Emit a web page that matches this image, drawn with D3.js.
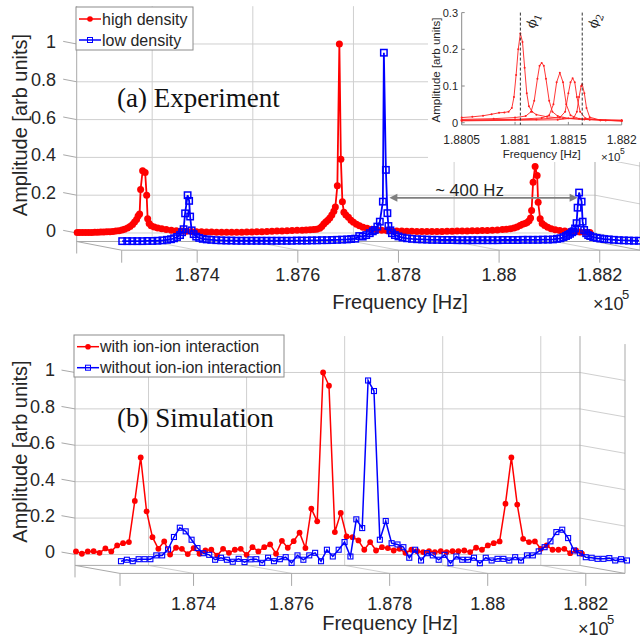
<!DOCTYPE html>
<html>
<head>
<meta charset="utf-8">
<script src="https://cdn.jsdelivr.net/npm/d3@7.9.0/dist/d3.min.js"></script>
<style>
  body { margin: 0; background: #fff; }
  svg { display: block; font-family: "Liberation Sans", Arial, sans-serif; }
</style>
</head>
<body>
<svg id="chart" width="640" height="640"></svg>
<script>
// ---- shared axis values (frequency in Hz) ----
const xMin = 187250, xMax = 188280;
const xTicks = [187400, 187600, 187800, 188000, 188200];
const xTickLabels = ["1.874", "1.876", "1.878", "1.88", "1.882"];
const zTicks = [0, 0.2, 0.4, 0.6, 0.8, 1];
const zTickLabels = ["0", "0.2", "0.4", "0.6", "0.8", "1"];

// ---- (a) experiment: [frequency Hz, amplitude] ----
const highDensity = [
  [187251,0.002],[187256,0.002],[187262,0.002],[187268,0.003],[187274,0.003],[187280,0.003],
  [187286,0.004],[187292,0.004],[187298,0.005],[187304,0.005],[187310,0.006],[187316,0.007],
  [187322,0.008],[187328,0.01],[187334,0.012],[187340,0.016],[187345,0.02],[187351,0.027],
  [187356,0.035],[187361,0.045],[187365,0.058],[187369,0.072],[187372,0.09],[187375,0.1],
  [187377,0.23],[187381,0.33],[187386,0.32],[187389,0.2],[187391,0.075],[187394,0.05],
  [187398,0.038],[187404,0.032],[187411,0.027],[187419,0.022],[187428,0.018],[187438,0.015],
  [187448,0.012],[187458,0.01],[187468,0.009],[187478,0.008],[187488,0.007],[187498,0.006],
  [187508,0.005],[187518,0.005],[187528,0.004],[187538,0.004],[187548,0.004],[187558,0.004],
  [187568,0.004],[187578,0.004],[187588,0.005],[187598,0.005],[187608,0.006],[187618,0.007],
  [187628,0.008],[187638,0.009],[187648,0.01],[187658,0.011],[187668,0.012],[187678,0.013],
  [187688,0.014],[187698,0.015],[187706,0.016],[187714,0.017],[187721,0.018],[187727,0.02],
  [187733,0.025],[187737,0.034],[187741,0.047],[187745,0.058],[187749,0.068],[187753,0.08],
  [187757,0.095],[187761,0.115],[187764,0.138],[187768,0.25],[187772,1.0],[187775,0.39],
  [187778,0.165],[187781,0.11],[187785,0.095],[187790,0.083],[187795,0.068],[187800,0.057],
  [187806,0.046],[187812,0.038],[187819,0.031],[187827,0.025],[187836,0.02],[187846,0.017],
  [187856,0.015],[187866,0.013],[187876,0.012],[187886,0.011],[187896,0.01],[187906,0.009],
  [187916,0.009],[187926,0.008],[187936,0.008],[187946,0.008],[187956,0.008],[187966,0.008],
  [187976,0.008],[187986,0.009],[187996,0.009],[188006,0.01],[188016,0.01],[188026,0.011],
  [188036,0.012],[188046,0.012],[188056,0.013],[188066,0.013],[188076,0.014],[188086,0.016],
  [188096,0.018],[188104,0.02],[188112,0.023],[188119,0.027],[188125,0.032],[188131,0.04],
  [188136,0.046],[188141,0.05],[188145,0.055],[188149,0.065],[188152,0.08],[188154,0.119],
  [188157,0.269],[188161,0.352],[188165,0.304],[188167,0.163],[188171,0.075],[188175,0.05],
  [188180,0.04],[188186,0.03],[188193,0.022],[188201,0.017],[188210,0.013],[188220,0.01],
  [188230,0.008],[188240,0.006],[188250,0.005],[188260,0.004],[188270,0.003]
];
const lowDensity = [
  [187251,0.003],[187261,0.003],[187271,0.003],[187281,0.003],[187291,0.003],[187301,0.004],
  [187311,0.004],[187321,0.005],[187331,0.007],[187340,0.01],[187348,0.013],[187354,0.018],
  [187360,0.025],[187366,0.035],[187370,0.05],[187373,0.066],[187376,0.15],[187381,0.246],
  [187384,0.216],[187386,0.133],[187389,0.06],[187393,0.04],[187398,0.027],[187404,0.02],
  [187411,0.015],[187419,0.012],[187428,0.01],[187438,0.008],[187448,0.007],[187458,0.006],
  [187468,0.006],[187478,0.005],[187488,0.005],[187498,0.005],[187508,0.005],[187518,0.005],
  [187528,0.005],[187538,0.005],[187548,0.005],[187558,0.005],[187568,0.005],[187578,0.005],
  [187588,0.005],[187598,0.006],[187608,0.006],[187618,0.006],[187628,0.007],[187638,0.007],
  [187648,0.008],[187658,0.008],[187668,0.009],[187678,0.01],[187688,0.011],[187698,0.012],
  [187706,0.014],[187714,0.016],[187722,0.03],[187729,0.027],[187736,0.035],[187743,0.045],
  [187749,0.055],[187753,0.062],[187758,0.08],[187763,0.106],[187769,0.212],[187771,1.0],
  [187775,0.38],[187778,0.151],[187780,0.083],[187784,0.06],[187787,0.045],[187793,0.035],
  [187800,0.028],[187808,0.022],[187817,0.018],[187827,0.015],[187837,0.013],[187847,0.012],
  [187857,0.011],[187867,0.01],[187877,0.01],[187887,0.009],[187897,0.009],[187907,0.009],
  [187917,0.008],[187927,0.008],[187937,0.008],[187947,0.008],[187957,0.008],[187967,0.008],
  [187977,0.008],[187987,0.008],[187997,0.008],[188007,0.009],[188017,0.009],[188027,0.009],
  [188037,0.009],[188047,0.01],[188057,0.01],[188067,0.01],[188077,0.01],[188087,0.011],
  [188097,0.011],[188107,0.012],[188115,0.015],[188122,0.018],[188128,0.024],[188133,0.03],
  [188137,0.036],[188141,0.042],[188145,0.05],[188148,0.055],[188151,0.07],[188154,0.098],
  [188156,0.18],[188159,0.26],[188164,0.212],[188166,0.106],[188169,0.062],[188173,0.045],
  [188177,0.035],[188181,0.03],[188187,0.024],[188194,0.02],[188201,0.017],[188209,0.014],
  [188218,0.012],[188228,0.01],[188238,0.008],[188248,0.007],[188258,0.006],[188268,0.005],
  [188278,0.005]
];
const gapArrowFreqs = [187782, 188156];
const gapArrowAmp = 0.232;

// ---- (b) simulation: amplitudes on the simulated frequency grid ----
const simFreqStart = 187252, simFreqStep = 12;
const withInteraction = [
  0.017,0.004,0.017,0.018,0.009,0.033,0.017,0.05,0.062,0.068,0.294,0.533,0.237,0.095,0.031,
  0.072,0.0,0.037,0.031,0.002,0.035,0.004,0.022,0.026,-0.006,0.031,0.009,0.026,0.031,-0.002,
  0.04,0.017,0.04,0.055,0.004,0.075,0.037,0.073,0.12,0.035,0.252,0.182,1.0,0.927,0.123,
  0.228,0.099,0.095,0.077,0.026,0.068,0.022,0.04,0.035,0.022,0.031,0.009,0.026,0.018,0.013,
  0.018,0.013,0.018,0.013,0.018,0.018,0.022,0.013,0.037,0.026,0.05,0.062,0.072,0.279,0.533,
  0.274,0.086,0.068,0.072,0.031,0.05,0.026,0.026,0.031,0.007,0.022,0.004
];
const withoutInteraction = [
  0.007,0.015,0.007,0.018,0.018,0.018,0.039,0.039,0.072,0.14,0.191,0.171,0.125,0.079,0.051,
  0.042,0.015,0.026,0.015,0.004,0.02,0.002,0.017,0.018,-0.002,0.026,0.007,0.018,0.029,-0.002,
  0.039,0.015,0.039,0.053,0.007,0.07,0.033,0.07,0.112,0.033,0.237,0.189,1.0,0.942,0.125,
  0.228,0.106,0.099,0.084,0.026,0.07,0.011,0.051,0.039,0.015,0.042,-0.004,0.033,0.015,0.015,
  0.026,-0.004,0.026,0.011,0.02,0.02,0.011,0.029,0.011,0.039,0.039,0.061,0.084,0.116,0.167,
  0.18,0.134,0.066,0.051,0.029,0.026,0.02,0.02,0.024,0.011,0.018,0.011
];

// ---- inset: five resonance scans [frequency Hz, amplitude] ----
const insetScans = [
  [[188050,0.014],[188060,0.016],[188070,0.019],[188078,0.023],[188085,0.027],[188090,0.028],
   [188094,0.03],[188097,0.04],[188099,0.07],[188101,0.13],[188103,0.2],[188105,0.243],
   [188107,0.22],[188109,0.15],[188111,0.08],[188113,0.045],[188116,0.03],[188120,0.022],
   [188130,0.016],[188145,0.012],[188165,0.009],[188200,0.007]],
  [[188050,0.009],[188080,0.011],[188100,0.014],[188110,0.018],[188115,0.03],[188118,0.06],
   [188121,0.12],[188123,0.155],[188125,0.163],[188127,0.155],[188129,0.12],[188132,0.06],
   [188135,0.03],[188140,0.018],[188150,0.012],[188170,0.008],[188200,0.006]],
  [[188050,0.007],[188100,0.009],[188125,0.013],[188132,0.02],[188136,0.05],[188139,0.11],
   [188142,0.136],[188145,0.11],[188148,0.05],[188152,0.02],[188160,0.011],[188180,0.007],
   [188200,0.005]],
  [[188050,0.006],[188120,0.009],[188142,0.014],[188147,0.03],[188150,0.08],[188152,0.11],
   [188154,0.121],[188156,0.11],[188158,0.07],[188161,0.03],[188166,0.012],[188185,0.006],
   [188200,0.005]],
  [[188050,0.005],[188140,0.008],[188155,0.013],[188158,0.03],[188160,0.07],[188162,0.1],
   [188163,0.105],[188165,0.08],[188167,0.04],[188170,0.015],[188180,0.007],[188200,0.005]]
];
const phiFreqs = [188105, 188163];
const phiLabels = ["1", "2"];
const insetXTicks = [188050, 188100, 188150, 188200];
const insetXTickLabels = ["1.8805", "1.881", "1.8815", "1.882"];
const insetYTicks = [0, 0.1, 0.2, 0.3];
const insetYTickLabels = ["0", "0.1", "0.2", "0.3"];

const GRID = "#cfcfcf", EDGE = "#a9a9a9", TXT = "#262626";
const svg = d3.select("#chart");

function drawPanel(p) {
  const g = svg.append("g");
  const x = d3.scaleLinear().domain([xMin, xMax]).range([p.left, p.left + p.width]);
  const z = d3.scaleLinear().domain([p.zMin, p.zMax])
    .range([p.floor, p.floor - (p.zMax - p.zMin) * p.unit]);
  // depth d: 0 = back plane, 1 = front plane
  const X = (f, d) => x(f) + d * p.dx;
  const Y = (a, d) => z(a) + d * p.dy;
  const seg = (x1, y1, x2, y2, c) => g.append("line")
    .attr("x1", x1).attr("y1", y1).attr("x2", x2).attr("y2", y2)
    .attr("stroke", c).attr("stroke-width", 1);

  // back wall grid
  zTicks.forEach(t => seg(X(xMin, 0), Y(t, 0), X(xMax, 0), Y(t, 0), GRID));
  xTicks.forEach(t => seg(X(t, 0), Y(p.zMin, 0), X(t, 0), Y(p.zMax, 0), GRID));
  // right wall grid
  zTicks.forEach(t => seg(X(xMax, 0), Y(t, 0), X(xMax, 1), Y(t, 1), GRID));
  // floor grid
  xTicks.forEach(t => seg(X(t, 0), Y(p.zMin, 0), X(t, 1), Y(p.zMin, 1), GRID));

  // box edges
  seg(X(xMin, 0), Y(p.zMax, 0), X(xMin, 0), Y(p.zMin, 0) + 12, EDGE);
  seg(X(xMax, 0), Y(p.zMax, 0), X(xMax, 0), Y(p.zMin, 0), EDGE);
  seg(X(xMax, 1), Y(p.zMax, 1), X(xMax, 1), Y(p.zMin, 1), EDGE);
  seg(X(xMin, 0), Y(p.zMin, 0), X(xMax, 0), Y(p.zMin, 0), EDGE);
  seg(X(xMin, 1), Y(p.zMin, 1), X(xMax, 1), Y(p.zMin, 1), EDGE);
  seg(X(xMin, 0), Y(p.zMin, 0), X(xMin, 1), Y(p.zMin, 1), EDGE);
  seg(X(xMax, 0), Y(p.zMin, 0), X(xMax, 1), Y(p.zMin, 1), EDGE);

  // ticks
  [xMin, ...xTicks].forEach(t => seg(X(t, 1), Y(p.zMin, 1), X(t, 1), Y(p.zMin, 1) + 12.5, EDGE));
  zTicks.forEach(t => seg(X(xMin, 0) - 0.3 * p.dx, Y(t, 0) - 0.3 * p.dy, X(xMin, 0), Y(t, 0), EDGE));

  // tick labels
  g.selectAll(null).data(xTicks).join("text")
    .attr("x", d => X(d, 1)).attr("y", p.xLabelY)
    .attr("text-anchor", "middle").attr("font-size", 18).attr("fill", TXT)
    .text((d, i) => xTickLabels[i]);
  g.selectAll(null).data(zTicks).join("text")
    .attr("x", p.zLabelX).attr("y", d => Y(d, 0) - 2.5 + 6.5)
    .attr("text-anchor", "end").attr("font-size", 18).attr("fill", TXT)
    .text((d, i) => zTickLabels[i]);

  // axis titles
  g.append("text").attr("x", p.xTitle[0]).attr("y", p.xTitle[1])
    .attr("text-anchor", "middle").attr("font-size", 20).attr("fill", TXT).text("Frequency [Hz]");
  g.append("text").attr("transform", `translate(27,${p.zTitleY}) rotate(-90)`)
    .attr("text-anchor", "middle").attr("font-size", 20).attr("fill", TXT).text("Amplitude [arb units]");
  g.append("text").attr("x", p.expo[0]).attr("y", p.expo[1])
    .attr("font-size", 18).attr("fill", TXT).text("\u00d710");
  g.append("text").attr("x", p.expo[0] + 29).attr("y", p.expo[1] - 11)
    .attr("font-size", 13).attr("fill", TXT).text("5");

  // series: back (red) first, then front (blue)
  p.series.forEach(s => {
    const pts = s.points;
    const line = d3.line().x(d => X(d[0], s.depth)).y(d => Y(d[1], s.depth));
    g.append("path").attr("d", line(pts)).attr("fill", "none")
      .attr("stroke", s.color).attr("stroke-width", s.lw);
    if (s.marker === "circle") {
      g.selectAll(null).data(pts).join("circle")
        .attr("cx", d => X(d[0], s.depth)).attr("cy", d => Y(d[1], s.depth))
        .attr("r", s.size).attr("fill", s.color);
    } else {
      g.selectAll(null).data(pts).join("rect")
        .attr("x", d => X(d[0], s.depth) - s.size / 2).attr("y", d => Y(d[1], s.depth) - s.size / 2)
        .attr("width", s.size).attr("height", s.size)
        .attr("fill", "none").attr("stroke", s.color).attr("stroke-width", s.sw);
    }
  });

  // legend
  const L = p.legend;
  g.append("rect").attr("x", L.x).attr("y", L.y).attr("width", L.w).attr("height", L.h)
    .attr("fill", "#fff").attr("stroke", "#8c8c8c").attr("stroke-width", 1);
  p.series.forEach((s, i) => {
    const ly = L.y + L.rows[i];
    g.append("line").attr("x1", L.x + 3).attr("x2", L.x + 25).attr("y1", ly).attr("y2", ly)
      .attr("stroke", s.color).attr("stroke-width", 1.5);
    if (s.marker === "circle") {
      g.append("circle").attr("cx", L.x + 14).attr("cy", ly).attr("r", 2.8).attr("fill", s.color);
    } else {
      g.append("rect").attr("x", L.x + 11.5).attr("y", ly - 2.5).attr("width", 5).attr("height", 5)
        .attr("fill", "none").attr("stroke", s.color).attr("stroke-width", 1);
    }
    g.append("text").attr("x", L.x + 26).attr("y", ly + 5.5).attr("font-size", 16)
      .attr("fill", TXT).text(s.name);
  });

  // panel caption
  g.append("text").attr("x", 117).attr("y", p.captionY)
    .attr("font-family", "'Liberation Serif', 'Times New Roman', serif")
    .attr("font-size", 27).attr("fill", "#111").text(p.caption);

  return { g, X, Y };
}

const panelA = drawPanel({
  left: 76.7, width: 518.3, floor: 241.5, unit: 189, zMin: -0.045, zMax: 1.2, dx: 45, dy: 8.7,
  xLabelY: 281, zLabelX: 56, xTitle: [400, 309], zTitleY: 125, expo: [593, 310],
  captionY: 107, caption: "(a) Experiment",
  legend: { x: 76, y: 7, w: 117, h: 43, rows: [12, 33] },
  series: [
    { name: "high density", points: highDensity, depth: 0, color: "#ff0000", marker: "circle", size: 3.5, lw: 1.8 },
    { name: "low density", points: lowDensity, depth: 1, color: "#0000ff", marker: "square", size: 6.4, sw: 1.5, lw: 1.8 }
  ]
});

const simGrid = withInteraction.map((_, i) => simFreqStart + i * simFreqStep);
drawPanel({
  left: 75, width: 505, floor: 565.4, unit: 182, zMin: -0.06, zMax: 1.2, dx: 45, dy: 8,
  xLabelY: 609.5, zLabelX: 55, xTitle: [390, 630], zTitleY: 451.5, expo: [578, 635],
  captionY: 427, caption: "(b) Simulation",
  legend: { x: 74, y: 335, w: 210, h: 42, rows: [11.7, 32.7] },
  series: [
    { name: "with ion-ion interaction", points: withInteraction.map((a, i) => [simGrid[i], a]),
      depth: 0, color: "#ff0000", marker: "circle", size: 2.9, lw: 1.5 },
    { name: "without ion-ion interaction", points: withoutInteraction.map((a, i) => [simGrid[i], a]),
      depth: 1, color: "#0000ff", marker: "square", size: 5, sw: 1.1, lw: 1.5 }
  ]
});

// ~400 Hz arrow between the two low density peaks (front plane of panel a)
{
  const ax1 = panelA.X(gapArrowFreqs[0], 1), ax2 = panelA.X(gapArrowFreqs[1], 1), ay = panelA.Y(gapArrowAmp, 1);
  const ga = svg.append("g").attr("fill", "#7f7f7f");
  ga.append("line").attr("x1", ax1 + 4).attr("x2", ax2 - 4).attr("y1", ay).attr("y2", ay)
    .attr("stroke", "#7f7f7f").attr("stroke-width", 1.8);
  ga.append("path").attr("d", `M${ax1},${ay}l8,-4v8z`);
  ga.append("path").attr("d", `M${ax2},${ay}l-8,-4v8z`);
  svg.append("text").attr("x", (ax1 + ax2) / 2 - 14).attr("y", ay - 2)
    .attr("text-anchor", "middle").attr("font-family", "'Noto Sans', sans-serif")
    .attr("font-size", 17).attr("fill", "#222").text("~ 400 Hz");
}

// ---- inset ----
{
  const gi = svg.append("g");
  gi.append("rect").attr("x", 428).attr("y", 0).attr("width", 212).attr("height", 162).attr("fill", "#fff");
  const ix = d3.scaleLinear().domain([188050, 188200]).range([461.7, 621.7]);
  const iy = d3.scaleLinear().domain([0, 0.3]).range([122.7, 12.6]);
  const yBottom = iy(-0.006);
  gi.append("line").attr("x1", ix(188050)).attr("x2", ix(188050)).attr("y1", iy(0.3)).attr("y2", yBottom)
    .attr("stroke", "#8a8a8a");
  gi.append("line").attr("x1", ix(188050)).attr("x2", ix(188200)).attr("y1", yBottom).attr("y2", yBottom)
    .attr("stroke", "#8a8a8a");
  insetXTicks.forEach((t, i) => {
    gi.append("line").attr("x1", ix(t)).attr("x2", ix(t)).attr("y1", yBottom).attr("y2", yBottom - 3)
      .attr("stroke", "#8a8a8a");
    gi.append("text").attr("x", ix(t)).attr("y", 143.5).attr("text-anchor", "middle")
      .attr("font-size", 12).attr("fill", TXT).text(insetXTickLabels[i]);
  });
  insetYTicks.forEach((t, i) => {
    gi.append("line").attr("x1", ix(188050)).attr("x2", ix(188050) + 3).attr("y1", iy(t)).attr("y2", iy(t))
      .attr("stroke", "#8a8a8a");
    gi.append("text").attr("x", 458).attr("y", iy(t) + 4).attr("text-anchor", "end")
      .attr("font-size", 11).attr("fill", TXT).text(insetYTickLabels[i]);
  });
  gi.append("text").attr("x", 541.7).attr("y", 158).attr("text-anchor", "middle")
    .attr("font-size", 11.5).attr("fill", TXT).text("Frequency [Hz]");
  gi.append("text").attr("x", 601).attr("y", 160.5).attr("font-size", 11.5).attr("fill", TXT).text("\u00d710");
  gi.append("text").attr("x", 620).attr("y", 153.5).attr("font-size", 8.5).attr("fill", TXT).text("5");
  gi.append("text").attr("transform", "translate(440,70) rotate(-90)").attr("text-anchor", "middle")
    .attr("font-size", 11.5).attr("fill", TXT).text("Amplitude [arb units]");

  const iline = d3.line().x(d => ix(d[0])).y(d => iy(d[1]));
  insetScans.forEach(scan => {
    gi.append("path").attr("d", iline(scan)).attr("fill", "none")
      .attr("stroke", "#ff2020").attr("stroke-width", 0.9);
    gi.selectAll(null).data(scan).join("circle")
      .attr("cx", d => ix(d[0])).attr("cy", d => iy(d[1])).attr("r", 1).attr("fill", "#ff2020");
  });
  phiFreqs.forEach((f, i) => {
    gi.append("line").attr("x1", ix(f)).attr("x2", ix(f)).attr("y1", iy(0.3)).attr("y2", yBottom)
      .attr("stroke", "#333").attr("stroke-width", 1).attr("stroke-dasharray", "3,2");
    const t = gi.append("text").attr("transform", `translate(${ix(f) + 14},${iy(0.255)}) rotate(-70)`)
      .attr("font-family", "'DejaVu Serif', serif").attr("font-size", 13).attr("fill", "#222");
    t.append("tspan").text("\u03d5");
    t.append("tspan").attr("dy", 3).attr("font-size", 10).text(phiLabels[i]);
  });
}
</script>
</body>
</html>
